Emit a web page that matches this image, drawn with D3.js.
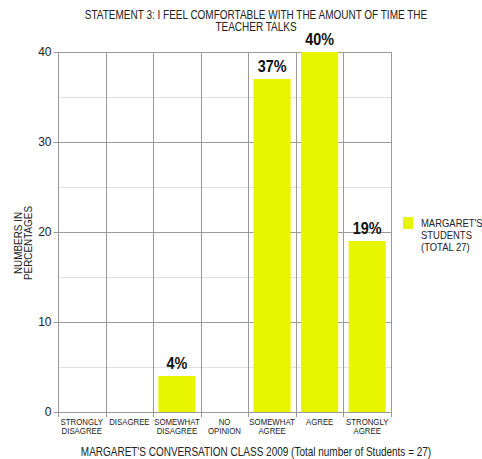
<!DOCTYPE html>
<html>
<head>
<meta charset="utf-8">
<script src="https://cdn.jsdelivr.net/npm/d3@7"></script>
<style>
  body { margin: 0; background: #fff; }
  svg { display: block; font-family: "Liberation Sans", Arial, sans-serif; }
</style>
</head>
<body>
<script>
// Survey responses, percent of students
const categories = [
  ["STRONGLY", "DISAGREE"],
  ["DISAGREE"],
  ["SOMEWHAT", "DISAGREE"],
  ["NO", "OPINION"],
  ["SOMEWHAT", "AGREE"],
  ["AGREE"],
  ["STRONGLY", "AGREE"]
];
const values = [0, 0, 4, 0, 37, 40, 19];
const yTicks = [0, 10, 20, 30, 40];
const yMinor = [5, 15, 25, 35];
const titleLines = ["STATEMENT 3: I FEEL COMFORTABLE WITH THE AMOUNT OF TIME THE", "TEACHER TALKS"];
const yTitleLines = ["NUMBERS IN", "PERCENTAGES"];
const xTitle = "MARGARET'S CONVERSATION CLASS 2009 (Total number of Students = 27)";
const legendLines = ["MARGARET'S", "STUDENTS", "(TOTAL 27)"];

const W = 482, H = 459;
const plotL = 58, plotR = 391, plotT = 52, plotB = 412;
const barColor = "#e8f500";
const ink = "#222";
const gridMajor = "#9a9a9a", gridMinor = "#e0e0e0";

const svg = d3.select("body").append("svg").attr("width", W).attr("height", H);

// Multi-line text block, horizontally condensed to mimic a narrow face
function narrowText(parent, lines, tx, ty, opts) {
  const g = parent.append("g")
    .attr("transform", `translate(${tx},${ty}) ${opts.rotate ? `rotate(${opts.rotate})` : ""} scale(${opts.sx},1)`);
  const t = g.append("text")
    .attr("text-anchor", opts.anchor || "middle")
    .attr("font-size", opts.size)
    .attr("fill", ink);
  t.selectAll("tspan").data(lines).join("tspan")
    .attr("x", 0)
    .attr("y", (d, i) => i * opts.lh)
    .text(d => d);
  return g;
}

const keys = d3.range(categories.length);
const x = d3.scaleBand().domain(keys).range([plotL, plotR]).paddingInner(0.22).paddingOuter(0.11);
const xb = d3.scaleBand().domain(keys).range([plotL, plotR]);
const y = d3.scaleLinear().domain([0, 40]).range([plotB, plotT]);

// minor gridlines
svg.append("g").selectAll("line").data(yMinor).join("line")
  .attr("x1", plotL).attr("x2", plotR)
  .attr("y1", d => Math.round(y(d)) + 0.5).attr("y2", d => Math.round(y(d)) + 0.5)
  .attr("stroke", gridMinor);

// major gridlines
svg.append("g").selectAll("line").data(yTicks.filter(d => d > 0)).join("line")
  .attr("x1", plotL).attr("x2", plotR)
  .attr("y1", d => Math.round(y(d)) + 0.5).attr("y2", d => Math.round(y(d)) + 0.5)
  .attr("stroke", gridMajor);

// category separators, extending below the baseline as ticks
svg.append("g").selectAll("line").data(d3.range(categories.length + 1)).join("line")
  .attr("x1", i => Math.round(plotL + i * xb.step()) + 0.5)
  .attr("x2", i => Math.round(plotL + i * xb.step()) + 0.5)
  .attr("y1", plotT).attr("y2", plotB + 5)
  .attr("stroke", gridMajor);

// bars
svg.append("g").selectAll("rect").data(values).join("rect")
  .attr("x", (d, i) => x(i))
  .attr("width", x.bandwidth())
  .attr("y", d => y(d))
  .attr("height", d => plotB - y(d))
  .attr("fill", barColor);

// value labels
svg.append("g").selectAll("g").data(values.map((v, i) => ({v, i})).filter(d => d.v > 0)).join("g")
  .attr("transform", d => `translate(${x(d.i) + x.bandwidth() / 2},${y(d.v) - 7.5}) scale(0.9,1)`)
  .append("text")
  .attr("text-anchor", "middle")
  .attr("font-weight", "bold")
  .attr("font-size", 16)
  .attr("fill", "#111")
  .text(d => d.v + "%");

// y axis
const yAxis = svg.append("g").attr("transform", `translate(${plotL + 0.5},0)`)
  .call(d3.axisLeft(y).tickValues(yTicks).tickSize(5).tickPadding(2).tickFormat(d3.format("d")));
yAxis.select(".domain").attr("stroke", gridMajor).attr("d", `M0,${plotB + 0.5}V${plotT}`);
yAxis.selectAll(".tick line").attr("stroke", gridMajor);
yAxis.selectAll(".tick text").attr("font-family", "Liberation Sans, Arial, sans-serif")
  .attr("font-size", 12).attr("fill", ink);

// x axis baseline
svg.append("line").attr("x1", plotL).attr("x2", plotR)
  .attr("y1", plotB + 0.5).attr("y2", plotB + 0.5)
  .attr("stroke", gridMajor);

// x category labels
categories.forEach((lines, i) => {
  narrowText(svg, lines, xb(i) + xb.bandwidth() / 2, plotB + 12.5, {size: 9, sx: 0.87, lh: 10});
});

// title
narrowText(svg, titleLines, 256, 19, {size: 12.5, sx: 0.8, lh: 12});

// y title
narrowText(svg, yTitleLines, 22, 243, {size: 11.5, sx: 0.86, lh: 9.5, rotate: -90});

// x title
narrowText(svg, [xTitle], 256, 456, {size: 12.5, sx: 0.8, lh: 12});

// legend
svg.append("rect").attr("x", 403).attr("y", 217).attr("width", 10).attr("height", 12).attr("fill", barColor);
narrowText(svg, legendLines, 421, 227, {size: 11, sx: 0.86, lh: 12.2, anchor: "start"});
</script>
</body>
</html>
